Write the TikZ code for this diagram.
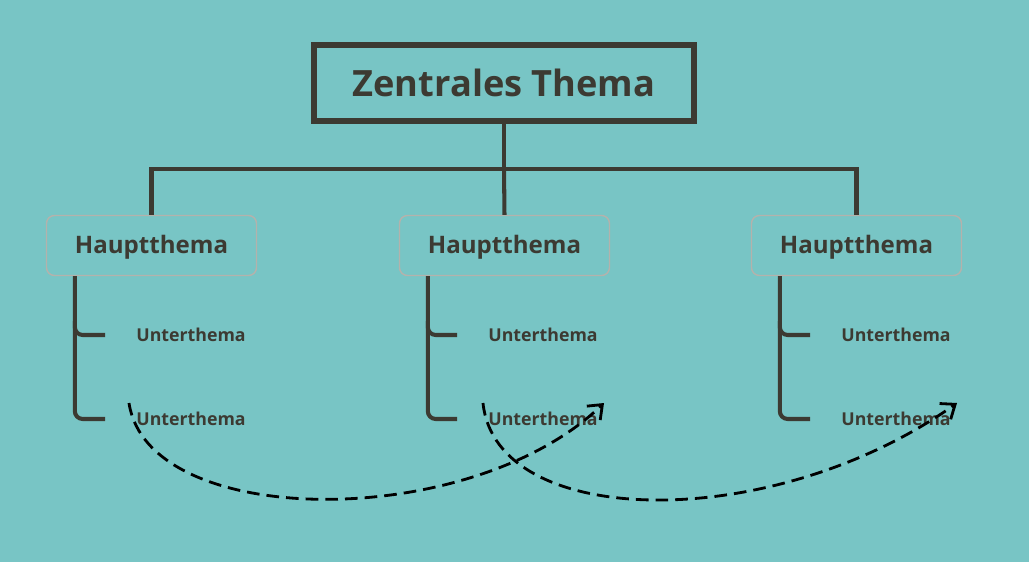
\documentclass[tikz,border=0pt]{standalone}
\usepackage{fontspec}
\setmainfont{Open Sans}
\usepackage{tikz}
\usetikzlibrary{arrows.meta,positioning,calc}
\definecolor{MapBack}{HTML}{78C5C5}
\definecolor{MapInk}{HTML}{3C3A32}
\definecolor{MapEdge}{HTML}{B4B2AC}

\begin{document}
\begin{tikzpicture}[
    x=0.02cm, y=-0.02cm,
    topicbox/.style={
      draw=MapInk, line width=2.9pt, fill=MapBack,
      minimum width=7.6cm, minimum height=1.52cm,
      font=\fontsize{20.6}{24}\selectfont\bfseries, text=MapInk
    },
    mainbox/.style={
      draw=MapEdge, line width=0.8pt, rounded corners=4.5pt, fill=MapBack,
      minimum width=4.2cm, minimum height=1.2cm,
      text height=1.12em, text depth=0.24em,
      font=\fontsize{13.7}{16}\selectfont\bfseries, text=MapInk
    },
    subnote/.style={
      anchor=west, inner sep=0pt,
      font=\fontsize{10.1}{12}\selectfont\bfseries, text=MapInk
    },
    trunk/.style={draw=MapInk, line width=2.3pt},
    twig/.style={draw=MapInk, line width=2.3pt, rounded corners=4.5pt},
    darr/.style={-{Straight Barb[length=7pt,width=11pt]}, line width=1.6pt,
                 dash pattern=on 7.2pt off 4pt, black}
  ]

  % Background
  \fill[MapBack] (0,0) rectangle (1029,562);
  \useasboundingbox (0,0) rectangle (1029,562);

  % Central topic
  \node[topicbox] (center) at (504,83) {Zentrales Thema};

  % Main topics
  \node[mainbox] (h1) at (151.5,245.5) {Hauptthema};
  \node[mainbox] (h2) at (504.5,245.5) {Hauptthema};
  \node[mainbox] (h3) at (856.5,245.5) {Hauptthema};

  % Sub topics
  \node[subnote] (s11) at (136,335) {Unterthema};
  \node[subnote] (s12) at (136,419) {Unterthema};
  \node[subnote] (s21) at (488,335) {Unterthema};
  \node[subnote] (s22) at (488,419) {Unterthema};
  \node[subnote] (s31) at (841,335) {Unterthema};
  \node[subnote] (s32) at (841,419) {Unterthema};

  % Tree
  \draw[trunk] (center.south) -- ++(0,45) coordinate (fork);
  \draw[trunk] (fork) -| (h1.north);
  \draw[trunk] (fork) -| (h3.north);
  \draw[trunk] (fork) -- (h2.north);

  % Branches
  \foreach \h/\a/\b in {h1/s11/s12, h2/s21/s22, h3/s31/s32} {
    \coordinate (v) at ($(\h.south west)+(29,0)$);
    \draw[twig] (v) |- ($(\b.west)+(-31,0)$);
    \draw[twig] ($(v |- \a.west)+(0,-14)$) |- ($(\a.west)+(-31,0)$);
  }

  % Cross links
  \coordinate (c1) at (129,403);
  \coordinate (c2) at (483,403);
  \draw[darr] (c1) .. controls (148,530) and (470,532) .. ($(s22.east)+(6,-16)$);
  \draw[darr] (c2) .. controls (496,530) and (772,534) .. ($(s32.east)+(6,-16)$);

\end{tikzpicture}
\end{document}
